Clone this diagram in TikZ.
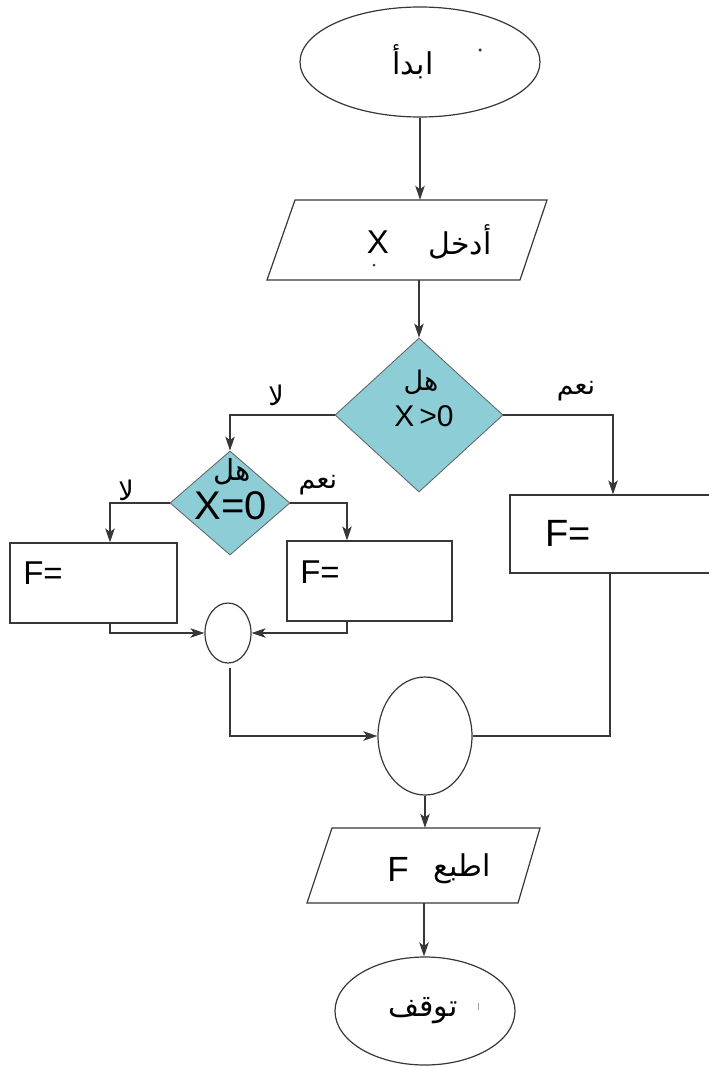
\documentclass[tikz,border=0pt]{standalone}
\usepackage{fontspec}
\setmainfont{Liberation Sans}
\newfontfamily\arabicfont[Script=Arabic]{DejaVu Sans}
\TeXXeTstate=1
\usetikzlibrary{shapes.geometric,arrows.meta}
\definecolor{diafill}{RGB}{140,205,214}
\definecolor{linec}{RGB}{55,55,55}
\begin{document}
\begin{tikzpicture}[x=1pt,y=-1pt,
  line/.style={draw=linec, line width=1.2pt},
  arr/.style={line, -{Stealth[length=14pt,width=9.5pt,inset=3.5pt]}},
  term/.style={ellipse, draw=linec, line width=1.2pt, inner sep=0},
  iobox/.style={rectangle, inner sep=0},
  ioline/.style={draw=linec, line width=1.2pt},
  dec/.style={diamond, draw=linec!80, line width=0.8pt, fill=diafill, inner sep=0},
  proc/.style={rectangle, draw=linec, line width=1.2pt, inner sep=0},
  junc/.style={ellipse, draw=linec, line width=1.2pt, inner sep=0},
  ar/.style={inner sep=0, font=\arabicfont\fontsize{30}{34}\selectfont},
  arlab/.style={inner sep=0, font=\arabicfont\fontsize{27}{30}\selectfont},
  lt/.style={inner sep=0, font=\fontsize{33}{36}\selectfont},
  speck/.style={circle, fill=linec, inner sep=0, minimum size=3.5pt}
]
\useasboundingbox (0,0) rectangle (709,1066);

% start
\node[term, minimum width=240, minimum height=110] (start) at (420,62) {};
\node[ar] (starttxt) at (413,62) {\beginR ابدأ\endR};
\node[speck] (speck1) at (480,50) {};

% input (parallelogram)
\node[iobox, minimum width=252, minimum height=80] (input) at (407,240) {};
\draw[ioline] (295,200) -- (547,200) -- (520,280) -- (267,280) -- cycle;
\node[ar] (intxt) at (460,242) {\beginR أدخل\endR};
\node[lt] (inx) at (378,242) {X};
\node[speck, minimum size=3pt] (speck2) at (374,265) {};

% decision 1
\node[dec, minimum width=168, minimum height=154] (d1) at (419,415) {};
\node[arlab] (d1a) at (421,382) {\beginR هل\endR};
\node[lt, font=\fontsize{30}{32}\selectfont] (d1b) at (424,416) {X\,>0};

% right process
\node[proc, minimum width=204, minimum height=78] (pr) at (612,534) {};
\node[lt, font=\fontsize{38}{40}\selectfont] (prtxt) at (568,533) {F=};

% decision 2
\node[dec, minimum width=120, minimum height=104] (d2) at (230,503) {};
\node[arlab, font=\arabicfont\fontsize{29}{32}\selectfont] (d2a) at (232,472) {\beginR هل\endR};
\node[lt, font=\fontsize{40}{42}\selectfont] (d2b) at (231,506) {X=0};

% left and middle process
\node[proc, minimum width=167, minimum height=80] (pl) at (93.5,583) {};
\node[lt] (pltxt) at (43,573) {F=};
\node[proc, minimum width=165, minimum height=80] (pm) at (369.5,581) {};
\node[lt] (pmtxt) at (320,572) {F=};

% junctions
\node[junc, minimum width=46, minimum height=60] (j1) at (228,633) {};
\node[junc, minimum width=94, minimum height=118] (j2) at (425,736) {};

% print (parallelogram)
\node[iobox, minimum width=210, minimum height=75] (print) at (424,865.5) {};
\draw[ioline] (332,828) -- (540,828) -- (518,903) -- (307,903) -- cycle;
\node[ar] (prttxt) at (462,869) {\beginR اطبع\endR};
\node[lt, font=\fontsize{35}{38}\selectfont] (prtf) at (398,869) {F};

% stop
\node[term, minimum width=180, minimum height=108] (stop) at (425,1011) {};
\node[ar] (stoptxt) at (423,1011) {\beginR توقف\endR};
\node[inner sep=0, minimum width=1pt, minimum height=7pt, fill=linec!50] (tick) at (478,1006) {};

% branch labels
\node[arlab] (no1) at (276,395) {\beginR لا\endR};
\node[arlab] (yes1) at (576,391) {\beginR نعم\endR};
\node[arlab] (no2) at (126,490) {\beginR لا\endR};
\node[arlab] (yes2) at (318,485) {\beginR نعم\endR};

% connectors
\draw[arr] (start.south) -- (start.south |- input.north);
\draw[arr] (d1.north |- input.south) -- (d1.north);
\draw[arr] (d1.west) -| (d2.north);
\draw[arr] (d1.east) -| ([xshift=1pt]pr.north);
\draw[arr] (d2.west) -| ([xshift=16.5pt]pl.north);
\draw[arr] (d2.east) -| ([xshift=-22.5pt]pm.north);
\draw[arr] ([xshift=16.5pt]pl.south) |- (j1.west);
\draw[arr] ([xshift=-22.5pt]pm.south) |- (j1.east);
\draw[arr] ([xshift=2pt,yshift=-4pt]j1.south) |- (j2.west);
\draw[line] ([xshift=-2pt]pr.south) |- (j2.east);
\draw[arr] (j2.south) -- (j2.south |- print.north);
\draw[arr] (print.south) -- (print.south |- stop.north);
\end{tikzpicture}
\end{document}
